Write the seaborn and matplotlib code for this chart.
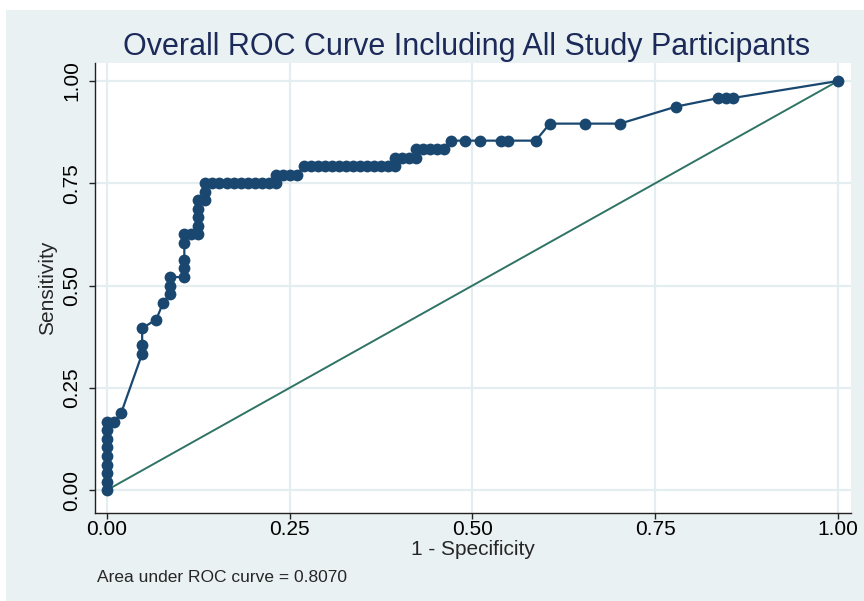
import matplotlib
matplotlib.use("Agg")
import matplotlib.pyplot as plt
import seaborn as sns
import pandas as pd
from matplotlib.patches import Rectangle

# ROC points (1 - specificity, sensitivity)
fpr = [
    0.0, 0.0, 0.0, 0.0, 0.0, 0.0, 0.0, 0.0, 0.0,
    0.0096, 0.0192,
    0.0481, 0.0481, 0.0481,
    0.0673, 0.0769,
    0.0865, 0.0865, 0.0865,
    0.1058, 0.1058, 0.1058, 0.1058, 0.1058,
    0.1154,
    0.1250, 0.1250, 0.1250, 0.1250, 0.1250,
    0.1346, 0.1346, 0.1346,
    0.1442, 0.1538, 0.1635, 0.1731, 0.1827, 0.1923, 0.2019, 0.2115, 0.2212,
    0.2308, 0.2308, 0.2404, 0.2500, 0.2596,
    0.2692, 0.2788, 0.2885, 0.2981, 0.3077, 0.3173, 0.3269, 0.3365, 0.3462,
    0.3558, 0.3654, 0.3750, 0.3846, 0.3942,
    0.3942, 0.4038, 0.4135, 0.4231,
    0.4231, 0.4327, 0.4423, 0.4519, 0.4615,
    0.4712, 0.4904, 0.5096, 0.5385, 0.5481, 0.5865,
    0.6058, 0.6538, 0.7019,
    0.7788,
    0.8365, 0.8462, 0.8558,
    1.0,
]
tpr = [
    0.0, 0.0208, 0.0417, 0.0625, 0.0833, 0.1042, 0.1250, 0.1458, 0.1667,
    0.1667, 0.1875,
    0.3333, 0.3542, 0.3958,
    0.4167, 0.4583,
    0.4792, 0.5000, 0.5208,
    0.5208, 0.5417, 0.5625, 0.6042, 0.6250,
    0.6250,
    0.6250, 0.6458, 0.6667, 0.6875, 0.7083,
    0.7083, 0.7292, 0.7500,
    0.7500, 0.7500, 0.7500, 0.7500, 0.7500, 0.7500, 0.7500, 0.7500, 0.7500,
    0.7500, 0.7708, 0.7708, 0.7708, 0.7708,
    0.7917, 0.7917, 0.7917, 0.7917, 0.7917, 0.7917, 0.7917, 0.7917, 0.7917,
    0.7917, 0.7917, 0.7917, 0.7917, 0.7917,
    0.8125, 0.8125, 0.8125, 0.8125,
    0.8333, 0.8333, 0.8333, 0.8333, 0.8333,
    0.8542, 0.8542, 0.8542, 0.8542, 0.8542, 0.8542,
    0.8958, 0.8958, 0.8958,
    0.9375,
    0.9583, 0.9583, 0.9583,
    1.0,
]
ref_x = [0.0, 1.0]
ref_y = [0.0, 1.0]
ticks = [0.0, 0.25, 0.5, 0.75, 1.0]
tick_labels = ["0.00", "0.25", "0.50", "0.75", "1.00"]
auc_text = "Area under ROC curve = 0.8070"

navy = "#1a476f"
green = "#2f7364"
bg = "#eaf1f3"

sns.set_style("white")
plt.rcParams["font.family"] = ["Liberation Sans", "DejaVu Sans"]

fig = plt.figure(figsize=(8.64, 6.01), dpi=100)
fig.patches.append(Rectangle((6 / 864, 0), 1, 1 - 10 / 601, transform=fig.transFigure,
                             facecolor=bg, edgecolor="none", zorder=-10))
ax = fig.add_axes([95 / 864, 1 - 513 / 601, 756 / 864, 450 / 601])
ax.set_facecolor("white")

df = pd.DataFrame({"fpr": fpr, "tpr": tpr})
sns.lineplot(data=df, x="fpr", y="tpr", sort=False, estimator=None, ax=ax,
             color=navy, linewidth=1.6, marker="o", markersize=8.5,
             markeredgewidth=0, zorder=3)
sns.lineplot(x=ref_x, y=ref_y, ax=ax, color=green, linewidth=1.4, zorder=2)

ax.set_xlim(-0.0164, 1.0178)
ax.set_ylim(-0.056, 1.044)
ax.set_xticks(ticks)
ax.set_xticklabels(tick_labels, fontsize=15)
ax.set_yticks(ticks)
ax.set_yticklabels(tick_labels, fontsize=15, rotation=90, va="center")
ax.grid(True, color="#e4edf0", linewidth=1.6)
ax.set_axisbelow(True)
for s in ["top", "right"]:
    ax.spines[s].set_visible(False)
for s in ["left", "bottom"]:
    ax.spines[s].set_color("#222222")
    ax.spines[s].set_linewidth(1.0)
ax.tick_params(axis="both", direction="out", length=4.5, width=1.0, color="#222222",
               labelcolor="black", left=True, bottom=True)
ax.tick_params(axis="x", pad=0.5)
ax.tick_params(axis="y", pad=5.5)

ax.set_xlabel("1 - Specificity", fontsize=15, labelpad=1)
ax.set_ylabel("Sensitivity", fontsize=15, labelpad=4)
fig.text(467 / 864, 1 - 47 / 601, "Overall ROC Curve Including All Study Participants",
         ha="center", va="center", fontsize=22, color="#1c2a59")
fig.text(97 / 864, 1 - 577 / 601, auc_text, ha="left", va="center", fontsize=12.5)

fig.savefig("out.png", dpi=100)
